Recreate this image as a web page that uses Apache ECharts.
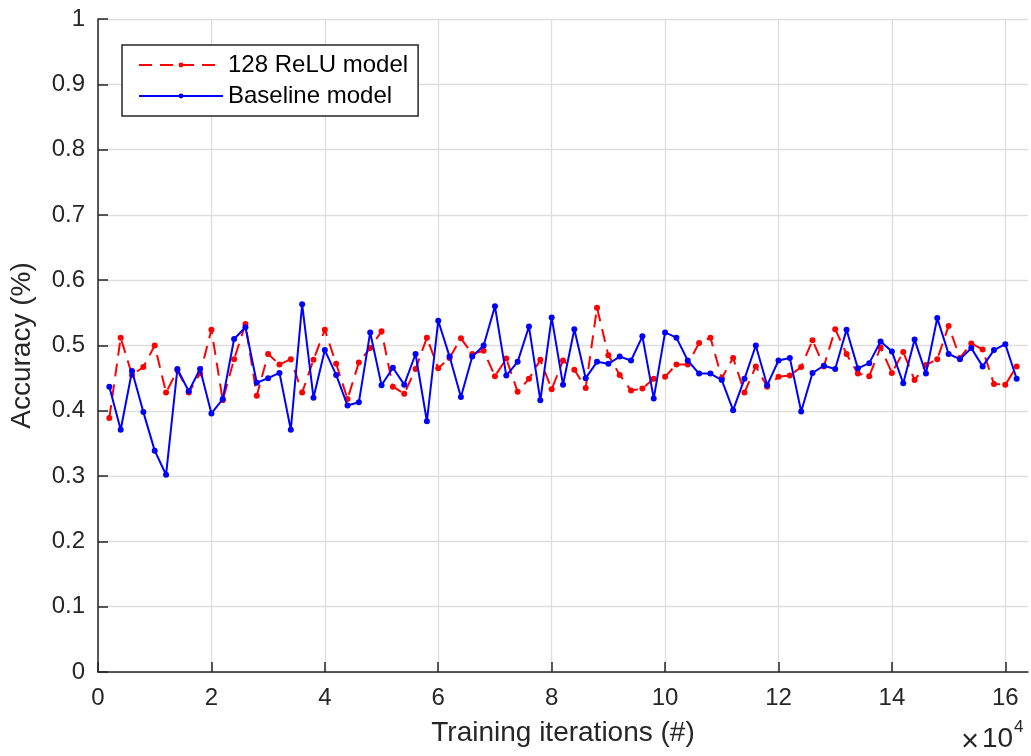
<!DOCTYPE html>
<html>
<head>
<meta charset="utf-8">
<script src="https://cdn.jsdelivr.net/npm/echarts@6/dist/echarts.min.js"></script>
<style>
html,body{margin:0;padding:0;background:#fff;}
#chart{width:1031px;height:756px;}
</style>
</head>
<body>
<div id="chart"></div>
<script>
// Training iterations
var iterations = [2000,4000,6000,8000,10000,12000,14000,16000,18000,20000,
  22000,24000,26000,28000,30000,32000,34000,36000,38000,40000,
  42000,44000,46000,48000,50000,52000,54000,56000,58000,60000,
  62000,64000,66000,68000,70000,72000,74000,76000,78000,80000,
  82000,84000,86000,88000,90000,92000,94000,96000,98000,100000,
  102000,104000,106000,108000,110000,112000,114000,116000,118000,120000,
  122000,124000,126000,128000,130000,132000,134000,136000,138000,140000,
  142000,144000,146000,148000,150000,152000,154000,156000,158000,160000,
  162000];

var reluAcc = [0.389,0.512,0.455,0.467,0.500,0.428,0.462,0.428,0.457,0.524,
  0.416,0.479,0.533,0.423,0.487,0.471,0.479,0.428,0.478,0.524,
  0.472,0.418,0.474,0.496,0.522,0.437,0.426,0.464,0.512,0.465,
  0.481,0.511,0.487,0.492,0.453,0.480,0.429,0.449,0.478,0.433,
  0.477,0.463,0.435,0.558,0.485,0.455,0.431,0.434,0.449,0.452,
  0.471,0.471,0.504,0.512,0.450,0.481,0.428,0.468,0.437,0.452,
  0.454,0.467,0.508,0.468,0.525,0.487,0.457,0.453,0.497,0.458,
  0.490,0.447,0.470,0.479,0.530,0.481,0.503,0.494,0.441,0.440,
  0.468];

var baselineAcc = [0.437,0.371,0.461,0.398,0.339,0.302,0.464,0.430,0.464,0.396,
  0.418,0.510,0.528,0.443,0.450,0.458,0.371,0.563,0.420,0.493,
  0.455,0.408,0.413,0.520,0.439,0.466,0.440,0.487,0.384,0.538,
  0.483,0.421,0.483,0.500,0.560,0.454,0.475,0.529,0.416,0.543,
  0.440,0.525,0.450,0.475,0.472,0.483,0.477,0.514,0.419,0.520,
  0.512,0.477,0.457,0.457,0.447,0.401,0.449,0.500,0.439,0.477,
  0.481,0.399,0.458,0.469,0.464,0.524,0.465,0.473,0.506,0.491,
  0.442,0.509,0.457,0.542,0.487,0.479,0.496,0.468,0.493,0.502,
  0.449];

var xTickValues = [0,20000,40000,60000,80000,100000,120000,140000,160000];
var seriesNames = ['128 ReLU model', 'Baseline model'];

var FONT = "'Liberation Sans', Arial, Helvetica, sans-serif";
var DARK = '#262626';
var GRID = '#dedede';

function pairs(xs, ys) {
  var out = [];
  for (var i = 0; i < xs.length; i++) out.push([xs[i], ys[i]]);
  return out;
}

var chart = echarts.init(document.getElementById('chart'), null, {renderer: 'canvas'});
chart.setOption({
  animation: false,
  backgroundColor: '#ffffff',
  textStyle: {fontFamily: FONT},
  grid: {left: 98, right: 3, top: 19, bottom: 84, containLabel: false},
  xAxis: {
    type: 'value',
    min: 0,
    max: 164000,
    interval: 20000,
    name: 'Training iterations (#)',
    nameLocation: 'middle',
    nameGap: 47,
    nameTextStyle: {fontSize: 28, color: DARK, fontFamily: FONT},
    axisLine: {show: true, onZero: false, lineStyle: {color: DARK, width: 1.5}},
    axisTick: {show: true, inside: true, length: 10, lineStyle: {color: DARK, width: 1.5}, customValues: xTickValues},
    axisLabel: {
      fontSize: 24, color: DARK, fontFamily: FONT, margin: 14,
      customValues: xTickValues,
      formatter: function (v) { return v > 160000 ? '' : String(Math.round(v / 10000)); }
    },
    splitLine: {show: true, lineStyle: {color: GRID, width: 1.3}}
  },
  yAxis: {
    type: 'value',
    min: 0,
    max: 1,
    interval: 0.1,
    name: 'Accuracy (%)',
    nameLocation: 'middle',
    nameGap: 62,
    nameTextStyle: {fontSize: 28, color: DARK, fontFamily: FONT},
    axisLine: {show: true, lineStyle: {color: DARK, width: 1.5}},
    axisTick: {show: true, inside: true, length: 10, lineStyle: {color: DARK, width: 1.5}},
    axisLabel: {
      fontSize: 24, color: DARK, fontFamily: FONT, margin: 13,
      formatter: function (v) {
        var r = Math.round(v * 10) / 10;
        if (r === 0) return '0';
        if (r === 1) return '1';
        return r.toFixed(1);
      }
    },
    splitLine: {show: true, lineStyle: {color: GRID, width: 1.3}}
  },
  legend: {
    orient: 'vertical',
    left: 122,
    top: 45,
    padding: [7, 10, 7, 16],
    itemGap: 5,
    itemWidth: 84,
    itemHeight: 6,
    borderColor: DARK,
    borderWidth: 1.5,
    borderRadius: 0,
    backgroundColor: '#ffffff',
    data: seriesNames,
    textStyle: {fontSize: 24, color: '#000000', fontFamily: FONT, lineHeight: 26}
  },
  series: [
    {
      name: seriesNames[0],
      type: 'line',
      data: pairs(iterations, reluAcc),
      symbol: 'circle',
      symbolSize: 6,
      showSymbol: true,
      color: '#ff0000',
      itemStyle: {color: '#ff0000'},
      lineStyle: {color: '#ff0000', width: 2, type: [13, 8]},
      z: 2
    },
    {
      name: seriesNames[1],
      type: 'line',
      data: pairs(iterations, baselineAcc),
      symbol: 'circle',
      symbolSize: 6,
      showSymbol: true,
      color: '#0000ff',
      itemStyle: {color: '#0000ff'},
      lineStyle: {color: '#0000ff', width: 2, type: 'solid'},
      z: 3
    }
  ],
  graphic: [
    {type: 'text', left: 961, top: 727, style: {text: '\u00d7', font: '31px ' + FONT, fill: DARK}},
    {type: 'text', left: 982, top: 725, style: {text: '10', font: '28px ' + FONT, fill: DARK}},
    {type: 'text', left: 1014, top: 719, style: {text: '4', font: '17px ' + FONT, fill: DARK}}
  ]
});
</script>
</body>
</html>
